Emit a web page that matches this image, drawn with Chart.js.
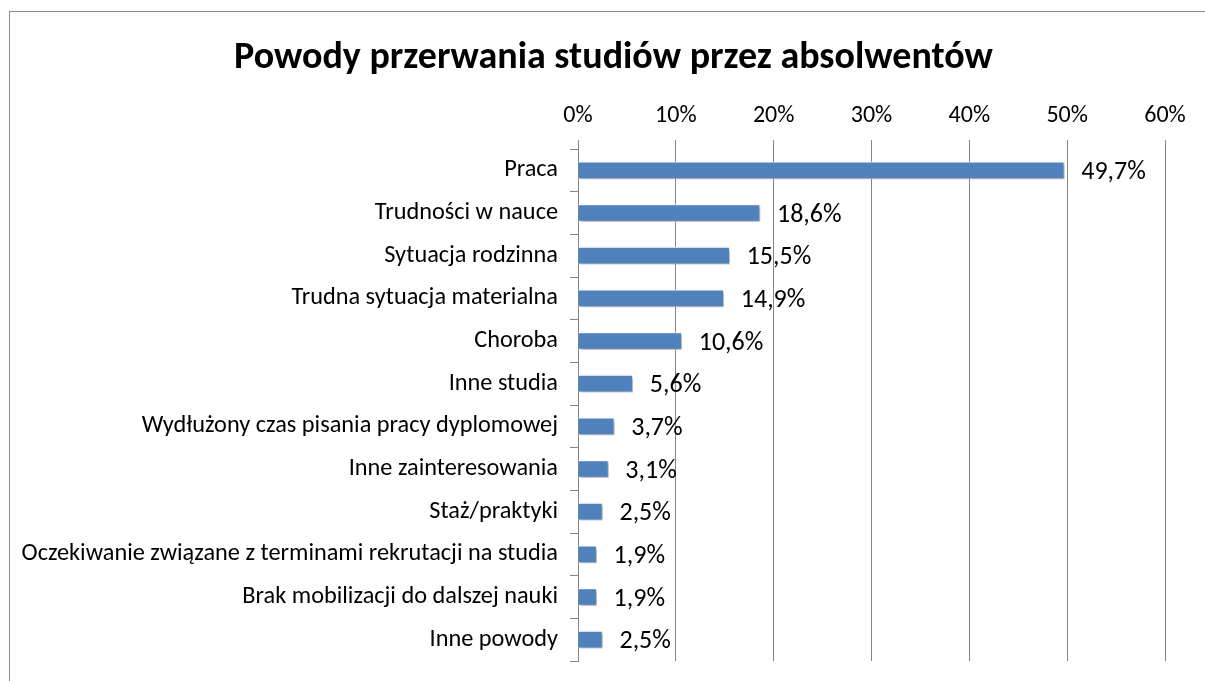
<!DOCTYPE html>
<html>
<head>
<meta charset="utf-8">
<script src="https://cdn.jsdelivr.net/npm/chart.js@4"></script>
<style>
  body { margin: 0; background: #fff; overflow: hidden; }
  #ramka { position: absolute; left: 9px; top: 11px; width: 1300px; height: 800px; border: 1px solid #8c8c8c; }
  #wrap { position: absolute; left: 0; top: 0; width: 1205px; height: 681px; }
</style>
</head>
<body>
<div id="ramka"></div>
<div id="wrap"><canvas id="myChart" width="1205" height="681"></canvas></div>
<script>
let kategorie = [
  "Praca",
  "Trudności w nauce",
  "Sytuacja rodzinna",
  "Trudna sytuacja materialna",
  "Choroba",
  "Inne studia",
  "Wydłużony czas pisania pracy dyplomowej",
  "Inne zainteresowania",
  "Staż/praktyki",
  "Oczekiwanie związane z terminami rekrutacji na studia",
  "Brak mobilizacji do dalszej nauki",
  "Inne powody"
];
let wartosci = [49.7, 18.6, 15.5, 14.9, 10.6, 5.6, 3.7, 3.1, 2.5, 1.9, 1.9, 2.5];
let osX = [0, 10, 20, 30, 40, 50, 60];

let czcionka = "Carlito, Calibri, Lato, sans-serif";

// cien pod slupkami
const cien = {
  id: "cien",
  beforeDatasetsDraw(chart) {
    let ctx = chart.ctx;
    ctx.save();
    ctx.shadowColor = "rgba(0,0,0,0.35)";
    ctx.shadowOffsetX = 2;
    ctx.shadowOffsetY = 2;
    ctx.shadowBlur = 3;
  },
  afterDatasetsDraw(chart) {
    chart.ctx.restore();
  }
};

// etykiety z wartosciami
const etykiety = {
  id: "etykiety",
  afterDraw(chart) {
    let ctx = chart.ctx;
    let meta = chart.getDatasetMeta(0);
    ctx.save();
    ctx.font = "26px " + czcionka;
    ctx.fillStyle = "#000";
    ctx.textBaseline = "middle";
    ctx.textAlign = "left";
    meta.data.forEach(function (bar, i) {
      let txt = wartosci[i].toFixed(1).replace(".", ",") + "%";
      ctx.fillText(txt, bar.x + 17, bar.y + 2);
    });
    ctx.restore();
  }
};

let chart = new Chart("myChart", {
  type: "bar",
  data: {
    labels: kategorie,
    datasets: [{
      data: wartosci,
      backgroundColor: "#4F81BD",
      borderColor: "rgba(255,255,255,0.9)",
      borderWidth: 1,
      barThickness: 17
    }]
  },
  options: {
    indexAxis: "y",
    responsive: false,
    animation: false,
    layout: { padding: { left: 22, right: 0, top: 0, bottom: 20 } },
    plugins: {
      legend: { display: false },
      tooltip: { enabled: false },
      title: {
        display: true,
        text: "Powody przerwania studiów przez absolwentów",
        color: "#000",
        font: { family: czcionka, size: 38, weight: "bold", lineHeight: 1.2 },
        padding: { top: 36, bottom: 10 }
      }
    },
    scales: {
      x: {
        position: "top",
        min: 0,
        max: 60,
        afterFit(scale) { scale.height = 57.4; },
        afterBuildTicks(scale) {
          scale.ticks = osX.map(v => ({ value: v }));
        },
        ticks: {
          color: "#000",
          font: { family: czcionka, size: 24 },
          padding: 10,
          callback: v => v + "%"
        },
        grid: { color: "#868686", lineWidth: 1, tickLength: 9 },
        border: { display: false }
      },
      y: {
        afterFit(scale) {
          scale.width = 556;
          scale.paddingTop = 0;
          scale.paddingBottom = 0;
        },
        ticks: {
          color: "#000",
          font: { family: czcionka, size: 24.3 },
          padding: 12
        },
        grid: { drawOnChartArea: false, offset: true, tickLength: 8, color: "#868686" },
        border: { display: true, color: "#868686" }
      },
      // pusta os po prawej - tylko margines
      prawa: {
        type: "linear",
        position: "right",
        afterFit(scale) {
          scale.width = 40;
          scale.paddingTop = 0;
          scale.paddingBottom = 0;
        },
        ticks: { display: false },
        grid: { display: false },
        border: { display: false }
      }
    }
  },
  plugins: [cien, etykiety]
});
</script>
</body>
</html>
